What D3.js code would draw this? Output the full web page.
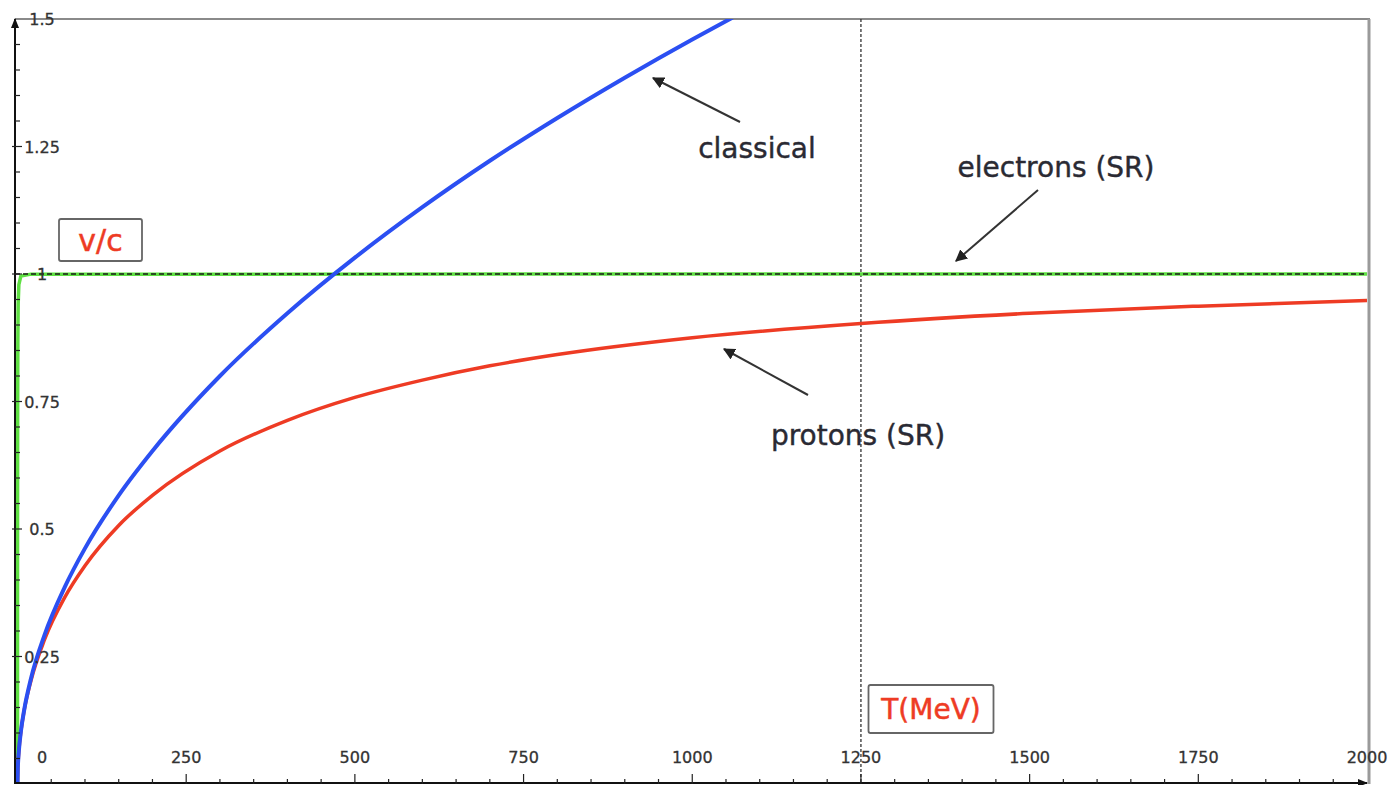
<!DOCTYPE html>
<html>
<head>
<meta charset="utf-8">
<script src="https://cdn.jsdelivr.net/npm/d3@7"></script>
<style>
  body { margin: 0; background: #fff; }
  svg { display: block; }
</style>
</head>
<body>
<svg id="chart" width="1392" height="785"></svg>
<script>

// kinetic energy T (MeV) and v/c
var classicalT    = [0, 0.5, 1, 2, 5, 10, 20, 40, 70, 100, 150, 200, 300, 400, 500, 600, 700, 800, 900, 1000, 1060];
var classicalBeta = [0, 0.033, 0.046, 0.065, 0.103, 0.146, 0.207, 0.292, 0.386, 0.462, 0.566, 0.653, 0.800, 0.923, 1.032, 1.131, 1.222, 1.306, 1.385, 1.460, 1.503];

var protonT    = [0, 0.5, 1, 2, 5, 10, 20, 40, 70, 100, 150, 200, 300, 400, 500, 600, 700, 800, 1000, 1250, 1500, 1750, 2000];
var protonBeta = [0, 0.033, 0.046, 0.065, 0.103, 0.145, 0.203, 0.283, 0.366, 0.428, 0.507, 0.566, 0.653, 0.713, 0.758, 0.792, 0.820, 0.842, 0.875, 0.903, 0.923, 0.937, 0.948];

var electronT    = [0, 0.05, 0.1, 0.25, 0.5, 1, 2, 5, 20, 2000];
var electronBeta = [0, 0.413, 0.548, 0.741, 0.863, 0.941, 0.979, 0.996, 0.9997, 1];

var xTickLabels = [0, 250, 500, 750, 1000, 1250, 1500, 1750, 2000];
var yTickLabels = [0.25, 0.5, 0.75, 1, 1.25, 1.5];

var svg = d3.select("#chart");

var x = d3.scaleLinear().domain([0, 2000]).range([17.5, 1367]);
var y = d3.scaleLinear().domain([0, 1.5]).range([784, 19]);

var axisX = 15;

var tickFont = "DejaVu Sans, Verdana, sans-serif";
var labelFont = "DejaVu Sans, Verdana, sans-serif";


//--------------------------------------
// FRAME + REFERENCE LINES
//--------------------------------------

svg.append("defs").append("clipPath").attr("id", "plotClip")
  .append("rect")
  .attr("x", axisX).attr("y", y(1.5))
  .attr("width", x(2000) - axisX + 2).attr("height", y(0) - y(1.5));

svg.append("line")
  .attr("x1", axisX).attr("x2", x(2000) + 3)
  .attr("y1", y(1.5)).attr("y2", y(1.5))
  .attr("stroke", "#8a8a8a").attr("stroke-width", 2);

svg.append("line")
  .attr("x1", x(2000) + 2).attr("x2", x(2000) + 2)
  .attr("y1", y(1.5)).attr("y2", y(0))
  .attr("stroke", "#9a9a9a").attr("stroke-width", 3);

svg.append("line")
  .attr("x1", x(1250)).attr("x2", x(1250))
  .attr("y1", y(1.5)).attr("y2", y(0))
  .attr("stroke", "#333").attr("stroke-width", 1.3)
  .attr("stroke-dasharray", "3,2");


//--------------------------------------
// CURVES
//--------------------------------------

var plot = svg.append("g").attr("clip-path", "url(#plotClip)");

function zipPts(ts, bs) {
  return ts.map(function(t, i) { return [t, bs[i]]; });
}

var smooth = d3.line()
  .x(function(d) { return x(d[0]); })
  .y(function(d) { return y(d[1]); })
  .curve(d3.curveMonotoneX);

var straight = d3.line()
  .x(function(d) { return x(d[0]); })
  .y(function(d) { return y(d[1]); });

plot.append("path")
  .datum(zipPts(electronT, electronBeta))
  .attr("d", straight)
  .attr("fill", "none")
  .attr("stroke", "#5fe043").attr("stroke-width", 3.5);

// dashed reference at v/c = 1
plot.append("line")
  .attr("x1", axisX).attr("x2", x(2000))
  .attr("y1", y(1)).attr("y2", y(1))
  .attr("stroke", "#1a1a1a").attr("stroke-width", 1.6)
  .attr("stroke-dasharray", "5,3");

plot.append("path")
  .datum(zipPts(protonT, protonBeta))
  .attr("d", smooth)
  .attr("fill", "none")
  .attr("stroke", "#ee3b24").attr("stroke-width", 3.5);

plot.append("path")
  .datum(zipPts(classicalT, classicalBeta))
  .attr("d", smooth)
  .attr("fill", "none")
  .attr("stroke", "#2b4ff2").attr("stroke-width", 4);


//--------------------------------------
// AXES
//--------------------------------------

var axes = svg.append("g");

axes.append("line")
  .attr("x1", axisX).attr("x2", axisX)
  .attr("y1", y(0)).attr("y2", y(1.5))
  .attr("stroke", "#111").attr("stroke-width", 2);

axes.append("line")
  .attr("x1", axisX).attr("x2", x(2000))
  .attr("y1", y(0) - 1).attr("y2", y(0) - 1)
  .attr("stroke", "#111").attr("stroke-width", 2);

// arrow heads on the axes
axes.append("path")
  .attr("d", "M" + axisX + "," + (y(1.5) - 1) + " l-4,10 l8,0 z")
  .attr("fill", "#111");
axes.append("path")
  .attr("d", "M" + (x(2000) + 1) + "," + (y(0) - 1) + " l-10,-4 l0,8 z")
  .attr("fill", "#111");

// minor ticks
axes.selectAll(".xminor").data(d3.range(50, 2000, 50)).enter().append("line")
  .attr("x1", function(d) { return x(d); }).attr("x2", function(d) { return x(d); })
  .attr("y1", y(0)).attr("y2", function(d) { return d % 250 === 0 ? y(0) - 10 : y(0) - 5; })
  .attr("stroke", "#222").attr("stroke-width", 1.2);

axes.selectAll(".yminor").data(d3.range(1, 30)).enter().append("line")
  .attr("x1", function(d) { return d % 5 === 0 ? axisX - 3 : axisX; })
  .attr("x2", function(d) { return d % 5 === 0 ? axisX + 7 : axisX + 5; })
  .attr("y1", function(d) { return y(d * 0.05); }).attr("y2", function(d) { return y(d * 0.05); })
  .attr("stroke", "#222").attr("stroke-width", 1.2);

axes.selectAll(".xlab").data(xTickLabels).enter().append("text")
  .attr("x", function(d) { return d === 0 ? 42 : x(d); })
  .attr("y", 763)
  .attr("text-anchor", "middle")
  .attr("font-family", tickFont).attr("font-size", 16)
  .attr("fill", "#333").attr("stroke", "#333").attr("stroke-width", 0.3)
  .text(function(d) { return d; });

axes.selectAll(".ylab").data(yTickLabels).enter().append("text")
  .attr("x", 42)
  .attr("y", function(d) { return y(d) + 6; })
  .attr("text-anchor", "middle")
  .attr("font-family", tickFont).attr("font-size", 16)
  .attr("fill", "#333").attr("stroke", "#333").attr("stroke-width", 0.3)
  .text(function(d) { return d; });


//--------------------------------------
// AXIS TITLE BOXES
//--------------------------------------

function _titleBox(cx, cy, w, h, label, size) {
  svg.append("rect")
    .attr("x", cx - w / 2).attr("y", cy - h / 2)
    .attr("width", w).attr("height", h)
    .attr("rx", 2)
    .attr("fill", "#fff").attr("stroke", "#666").attr("stroke-width", 1.8);
  svg.append("text")
    .attr("x", cx).attr("y", cy + size * 0.36)
    .attr("text-anchor", "middle")
    .attr("font-family", labelFont).attr("font-size", size)
    .attr("fill", "#ee3b24").attr("stroke", "#ee3b24").attr("stroke-width", 0.5)
    .text(label);
}

_titleBox(100.5, 240, 83, 42, "v/c", 30);
_titleBox(931, 709, 125, 48, "T(MeV)", 28);


//--------------------------------------
// ANNOTATIONS
//--------------------------------------

svg.append("defs").append("marker")
  .attr("id", "head")
  .attr("viewBox", "0 0 10 10")
  .attr("refX", 9).attr("refY", 5)
  .attr("markerWidth", 6).attr("markerHeight", 6)
  .attr("markerUnits", "strokeWidth")
  .attr("orient", "auto")
  .append("path").attr("d", "M0,0 L10,5 L0,10 z").attr("fill", "#222");

var notes = [
  { text: "classical",      tx: 757,  ty: 158, from: [740, 122], to: [653, 78] },
  { text: "electrons (SR)", tx: 1056, ty: 177, from: [1038, 190], to: [956, 261] },
  { text: "protons (SR)",   tx: 858,  ty: 445, from: [808, 395], to: [724, 349] }
];

notes.forEach(function(n) {
  svg.append("line")
    .attr("x1", n.from[0]).attr("y1", n.from[1])
    .attr("x2", n.to[0]).attr("y2", n.to[1])
    .attr("stroke", "#333").attr("stroke-width", 2)
    .attr("marker-end", "url(#head)");
  svg.append("text")
    .attr("x", n.tx).attr("y", n.ty)
    .attr("text-anchor", "middle")
    .attr("font-family", labelFont).attr("font-size", 28)
    .attr("fill", "#2a2a33").attr("stroke", "#2a2a33").attr("stroke-width", 0.4)
    .text(n.text);
});

</script>
</body>
</html>
